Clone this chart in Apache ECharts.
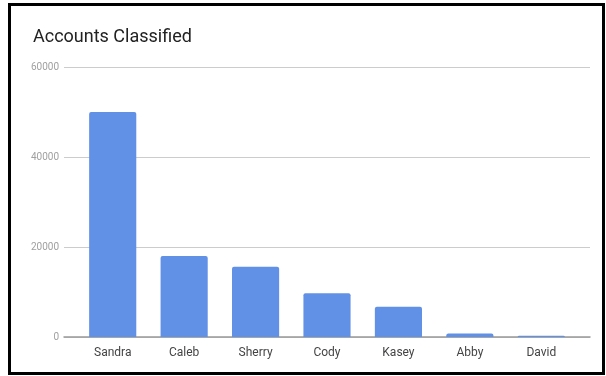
<!DOCTYPE html>
<html>
<head>
<meta charset="utf-8">
<script src="https://cdn.jsdelivr.net/npm/echarts@6/dist/echarts.min.js"></script>
<style>
  html, body { margin: 0; padding: 0; background: #fff; }
  #wrap { position: relative; width: 606px; height: 376px; }
  #chart { position: absolute; left: 0; top: 0; width: 606px; height: 376px; }
  #frame { position: absolute; left: 8px; top: 3px; width: 597px; height: 372px;
           box-sizing: border-box; border: 3px solid #000; pointer-events: none; }
</style>
</head>
<body>
<div id="wrap">
  <div id="chart"></div>
  <div id="frame"></div>
</div>
<script>
const categories = ['Sandra', 'Caleb', 'Sherry', 'Cody', 'Kasey', 'Abby', 'David'];
const accounts = [50000, 18000, 15600, 9700, 6700, 800, 300];
const yTicks = { min: 0, max: 60000, interval: 20000 };
const titleText = 'Accounts Classified';

const chart = echarts.init(document.getElementById('chart'), null, { renderer: 'canvas' });
const font = 'Roboto, "Noto Sans", sans-serif';

chart.setOption({
  animation: false,
  backgroundColor: '#fff',
  textStyle: { fontFamily: font },
  title: {
    text: titleText,
    left: 28,
    top: 23,
    textStyle: { fontSize: 18, fontWeight: 'normal', color: '#222', fontFamily: font }
  },
  grid: [
    { left: 64, right: 16, top: 67, height: 270 },
    { left: 77, right: 29, top: 67, height: 270 }
  ],
  xAxis: [
    {
      gridIndex: 0, type: 'category', data: categories,
      axisLabel: { show: false }, axisTick: { show: false },
      axisLine: { show: true, lineStyle: { color: '#999', width: 1.5 } },
      splitLine: { show: false }
    },
    {
      gridIndex: 1, type: 'category', data: categories,
      axisLabel: { show: true, fontSize: 12, color: '#444', margin: 10, fontFamily: font },
      axisTick: { show: false }, axisLine: { show: false }, splitLine: { show: false }
    }
  ],
  yAxis: [
    {
      gridIndex: 0, type: 'value', min: yTicks.min, max: yTicks.max, interval: yTicks.interval,
      axisLabel: { fontSize: 10, color: '#a0a0a0', margin: 5, fontFamily: font,
                   formatter: function (v) { return String(v); } },
      axisTick: { show: false }, axisLine: { show: false },
      splitLine: { show: true, lineStyle: { color: '#cccccc', width: 1 } }
    },
    {
      gridIndex: 1, type: 'value', min: yTicks.min, max: yTicks.max, interval: yTicks.interval,
      show: false, splitLine: { show: false }
    }
  ],
  series: [
    {
      type: 'bar', xAxisIndex: 1, yAxisIndex: 1,
      data: accounts,
      barCategoryGap: '34%',
      itemStyle: { color: '#6191e6', borderRadius: [2, 2, 0, 0] }
    }
  ]
});
</script>
</body>
</html>
